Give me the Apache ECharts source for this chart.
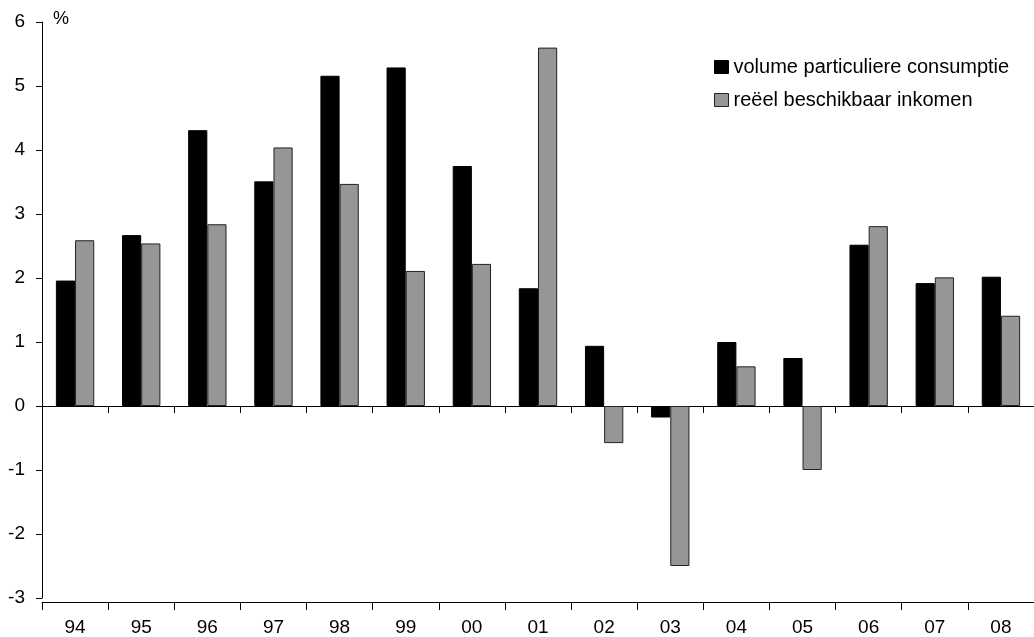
<!DOCTYPE html>
<html>
<head>
<meta charset="utf-8">
<script src="https://cdn.jsdelivr.net/npm/echarts@6/dist/echarts.min.js"></script>
<style>html,body{margin:0;padding:0;background:#fff}#c{width:1034px;height:637px}</style>
</head>
<body>
<div id="c"></div>
<script>
const categories = ['94','95','96','97','98','99','00','01','02','03','04','05','06','07','08'];
const consumptie = [1.96, 2.67, 4.31, 3.51, 5.16, 5.29, 3.75, 1.84, 0.94, -0.18, 1.0, 0.75, 2.52, 1.92, 2.02];
const inkomen = [2.59, 2.54, 2.84, 4.04, 3.47, 2.11, 2.22, 5.60, -0.58, -2.50, 0.62, -1.0, 2.81, 2.01, 1.41];
const seriesNames = ['volume particuliere consumptie', 'reëel beschikbaar inkomen'];
const yTicks = { min: -3, max: 6, interval: 1 };

const FONT = 'Liberation Sans, Arial, sans-serif';
const chart = echarts.init(document.getElementById('c'), null, { renderer: 'canvas' });
chart.setOption({
  animation: false,
  backgroundColor: '#fff',
  textStyle: { fontFamily: FONT, color: '#000' },
  title: { text: '%', left: 48, top: 5, textStyle: { fontFamily: FONT, fontSize: 18, fontWeight: 'normal', color: '#000' } },
  legend: {
    orient: 'vertical', left: 709, top: 52, itemWidth: 14, itemHeight: 13, itemGap: 13,
    textStyle: { fontFamily: FONT, fontSize: 20, color: '#000', lineHeight: 20 },
    data: [
      { name: seriesNames[0], icon: 'rect', itemStyle: { color: '#000', borderColor: '#000', borderWidth: 1 } },
      { name: seriesNames[1], icon: 'rect', itemStyle: { color: '#969696', borderColor: '#222', borderWidth: 1 } }
    ]
  },
  grid: { left: 42, top: 22, width: 1000, height: 576 },
  xAxis: [
    {
      type: 'category', data: categories, position: 'top',
      axisLine: { onZero: true, lineStyle: { color: '#000', width: 1 } },
      axisTick: { show: true, inside: true, length: 7, lineStyle: { color: '#000' } },
      axisLabel: { show: false }, splitLine: { show: false }
    },
    {
      type: 'category', data: categories, position: 'bottom', offset: 4,
      axisLine: { onZero: false, lineStyle: { color: '#000', width: 1 } },
      axisTick: { show: true, length: 8, lineStyle: { color: '#000' } },
      axisLabel: { fontFamily: FONT, fontSize: 19, color: '#000', margin: 16 },
      splitLine: { show: false }
    }
  ],
  yAxis: {
    type: 'value', min: yTicks.min, max: yTicks.max, interval: yTicks.interval,
    axisLine: { show: true, onZero: false, lineStyle: { color: '#000', width: 1 } },
    axisTick: { show: true, length: 6, lineStyle: { color: '#000' } },
    axisLabel: { fontFamily: FONT, fontSize: 19, color: '#000', margin: 17 },
    splitLine: { show: false }
  },
  series: [
    { name: seriesNames[0], type: 'bar', xAxisIndex: 1, data: consumptie, barWidth: '29%', barGap: '0%',
      itemStyle: { color: '#000', borderColor: '#000', borderWidth: 1 } },
    { name: seriesNames[1], type: 'bar', xAxisIndex: 1, data: inkomen, barWidth: '29%', barGap: '0%',
      itemStyle: { color: '#969696', borderColor: '#222', borderWidth: 1 } }
  ]
});
</script>
</body>
</html>
